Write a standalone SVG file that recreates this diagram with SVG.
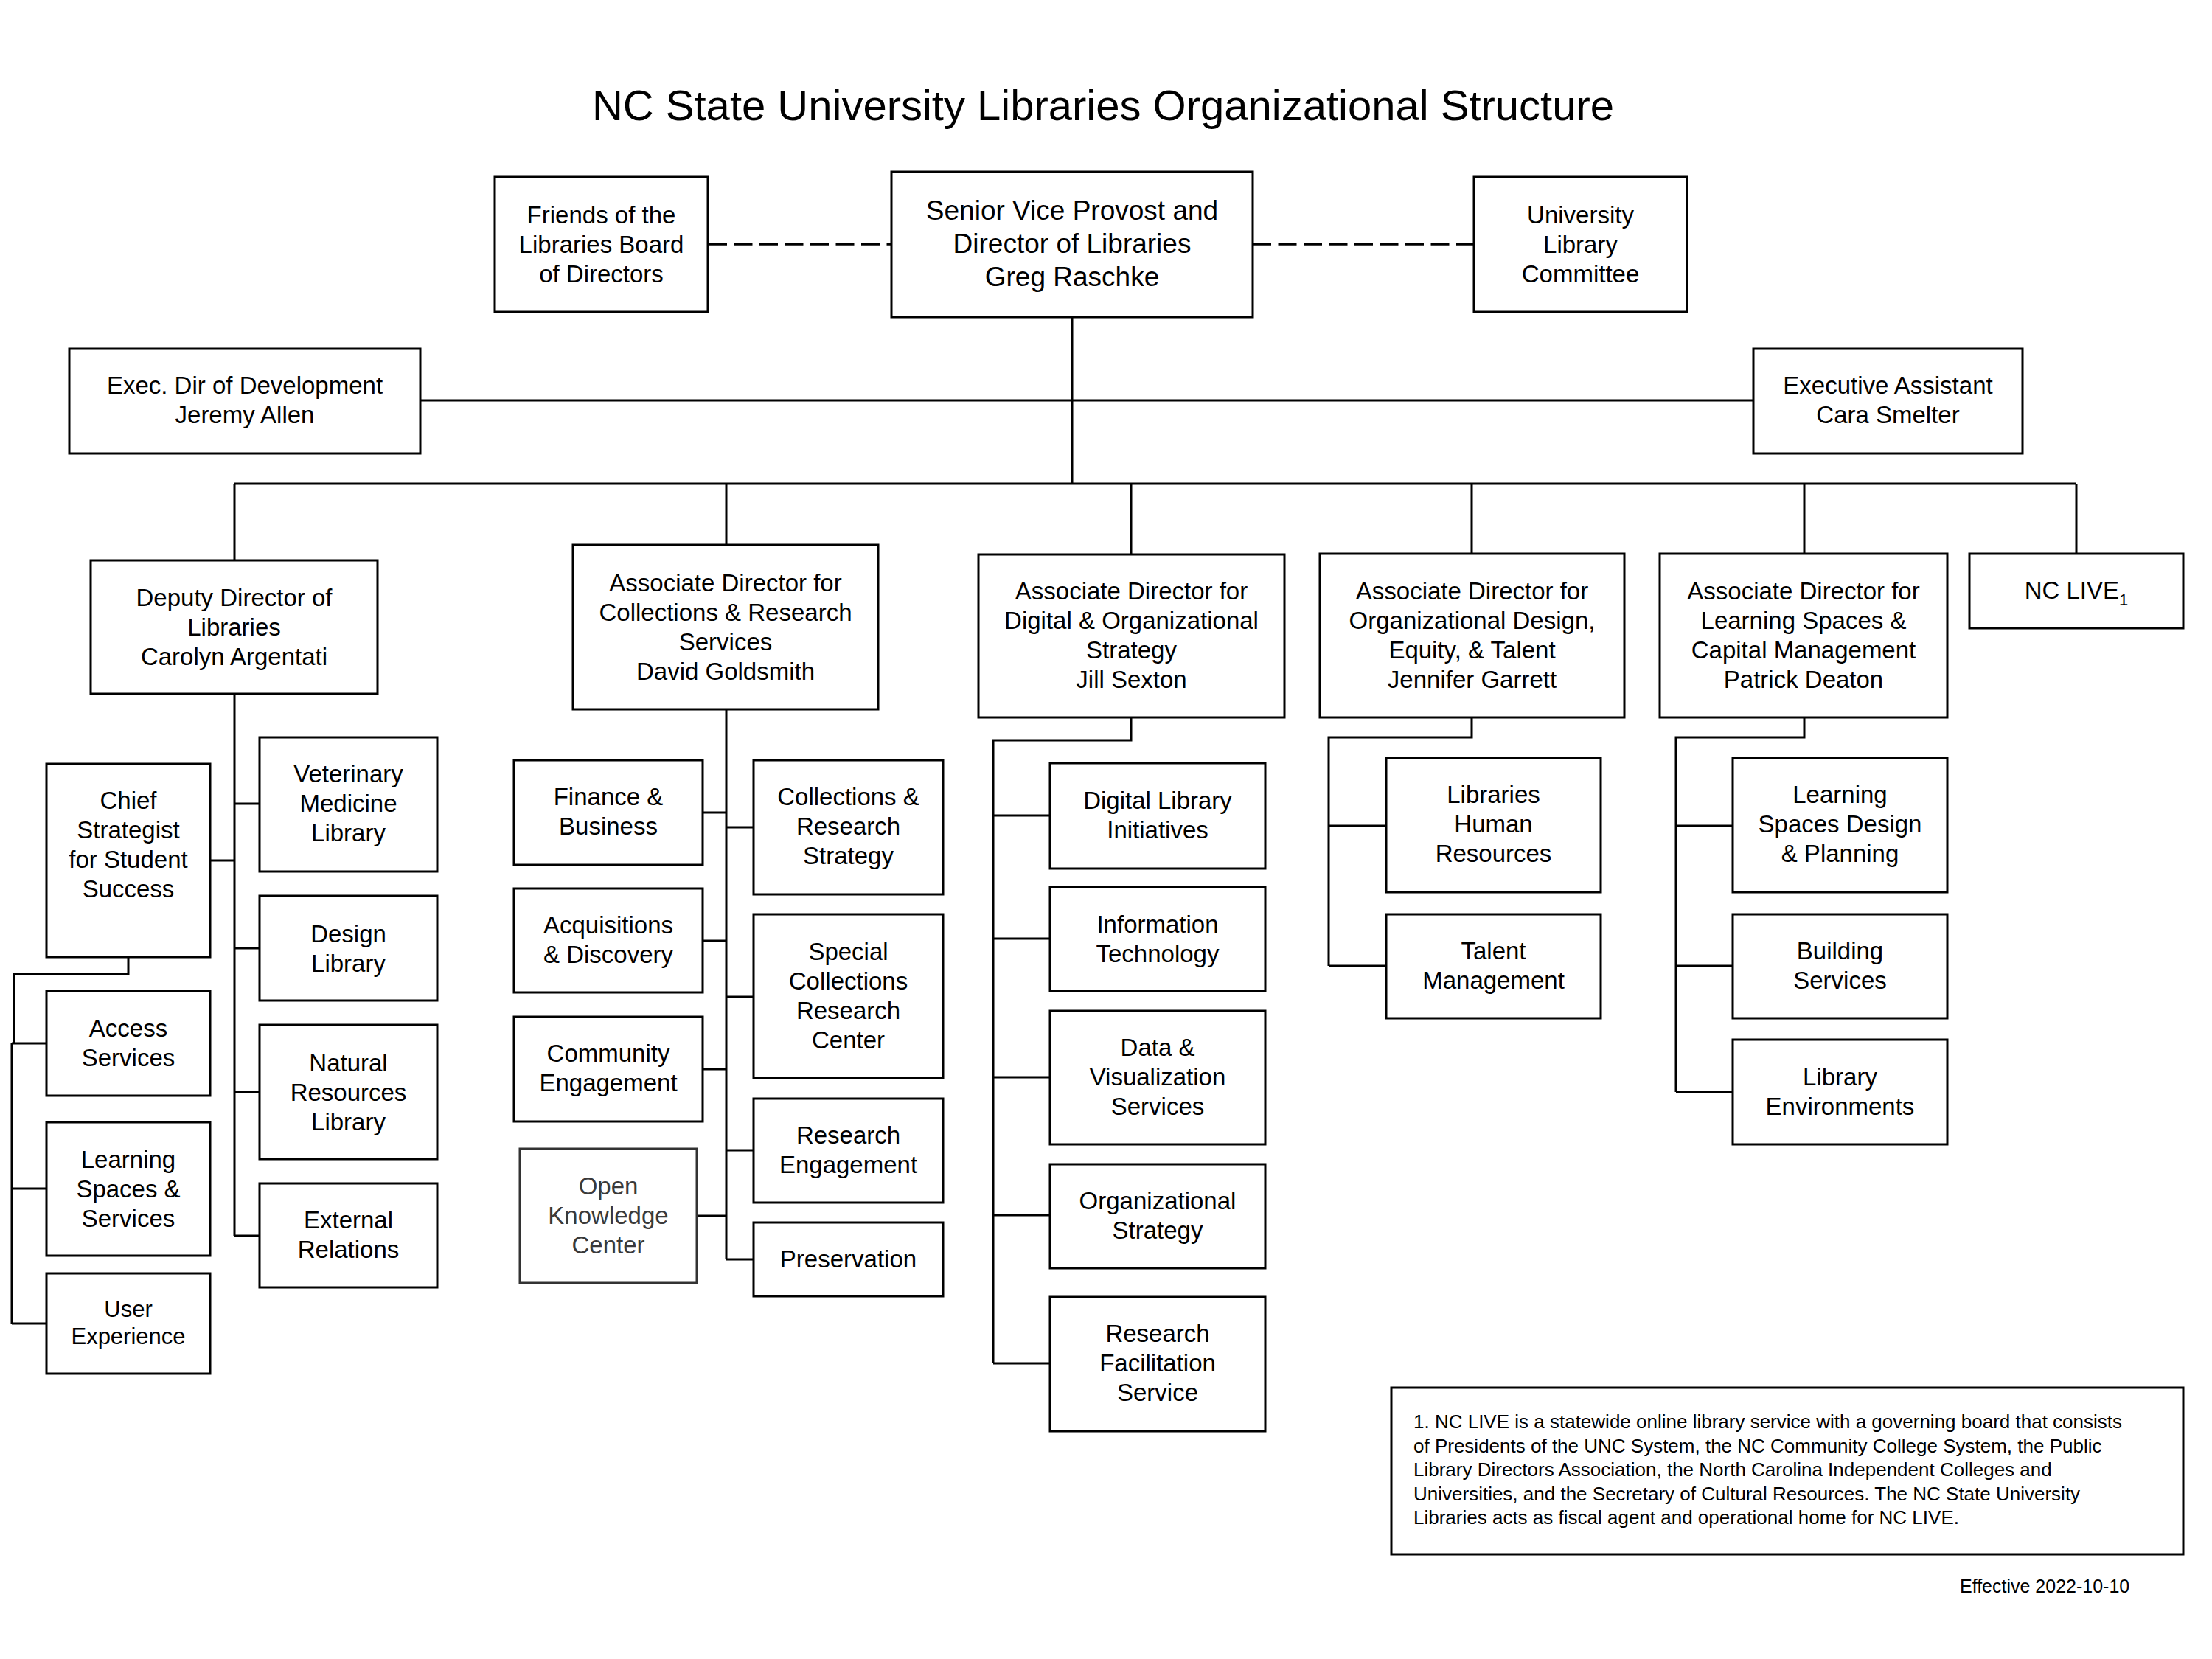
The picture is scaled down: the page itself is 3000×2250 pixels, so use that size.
<svg xmlns="http://www.w3.org/2000/svg" width="3000" height="2250" viewBox="0 0 3000 2250">
<style>
rect.box{fill:#fff;stroke:#000;stroke-width:3}
.t{font-family:"Liberation Sans",Arial,sans-serif;font-size:33px;text-anchor:middle;fill:#000}
.big{font-size:37px}
.title{font-family:"Liberation Sans",Arial,sans-serif;font-size:58px;text-anchor:middle;fill:#000}
.note{font-family:"Liberation Sans",Arial,sans-serif;font-size:26px;fill:#000}
.eff{font-family:"Liberation Sans",Arial,sans-serif;font-size:25px;fill:#000}
#connectors path{fill:none;stroke:#000;stroke-width:3}
#connectors path.dash{stroke-dasharray:25 9.5;stroke-width:3.5}
</style>
<rect width="3000" height="2250" fill="#fff"/>
<text class="title" x="1496" y="163">NC State University Libraries Organizational Structure</text>
<g id="connectors">
<path class="dash" d="M961 331H1209"/>
<path class="dash" d="M1699 331H1999"/>
<path d="M1454 430V656M570 543H2378M318 656H2816M318 656V760M985 656V739M1534 656V752M1996 656V751M2447 656V751M2816 656V751"/>
<path d="M318 941V1676M318 1090H352M318 1286H352M318 1481H352M318 1676H352M285 1167H318"/>
<path d="M174 1298V1321H19V1415M16 1415V1795M16 1415H63M16 1612H63M16 1795H63"/>
<path d="M985 962V1708M954 1102H985M954 1276H985M954 1450H985M945 1649H985M985 1122H1022M985 1352H1022M985 1560H1022M985 1708H1022"/>
<path d="M1534 973V1004H1347V1849M1347 1106H1424M1347 1273H1424M1347 1461H1424M1347 1648H1424M1347 1849H1424"/>
<path d="M1996 973V1000H1802V1310M1802 1120H1880M1802 1310H1880"/>
<path d="M2447 973V1000H2273V1481M2273 1120H2350M2273 1310H2350M2273 1481H2350"/>
</g>
<g id="friends"><rect class="box" x="671" y="240" width="289" height="183"/><text class="t" y="303"><tspan x="815.5">Friends of the</tspan><tspan x="815.5" dy="40">Libraries Board</tspan><tspan x="815.5" dy="40">of Directors</tspan></text></g>
<g id="svp"><rect class="box" x="1209" y="233" width="490" height="197"/><text class="t big" y="298"><tspan x="1454">Senior Vice Provost and</tspan><tspan x="1454" dy="45">Director of Libraries</tspan><tspan x="1454" dy="45">Greg Raschke</tspan></text></g>
<g id="ulc"><rect class="box" x="1999" y="240" width="289" height="183"/><text class="t" y="303"><tspan x="2143.5">University</tspan><tspan x="2143.5" dy="40">Library</tspan><tspan x="2143.5" dy="40">Committee</tspan></text></g>
<g id="execdev"><rect class="box" x="94" y="473" width="476" height="142"/><text class="t" y="534"><tspan x="332">Exec. Dir of Development</tspan><tspan x="332" dy="40">Jeremy Allen</tspan></text></g>
<g id="execasst"><rect class="box" x="2378" y="473" width="365" height="142"/><text class="t" y="534"><tspan x="2560.5">Executive Assistant</tspan><tspan x="2560.5" dy="40">Cara Smelter</tspan></text></g>
<g id="deputy"><rect class="box" x="123" y="760" width="389" height="181"/><text class="t" y="822"><tspan x="317.5">Deputy Director of</tspan><tspan x="317.5" dy="40">Libraries</tspan><tspan x="317.5" dy="40">Carolyn Argentati</tspan></text></g>
<g id="assoc-collections"><rect class="box" x="777" y="739" width="414" height="223"/><text class="t" y="802"><tspan x="984">Associate Director for</tspan><tspan x="984" dy="40">Collections &amp; Research</tspan><tspan x="984" dy="40">Services</tspan><tspan x="984" dy="40">David Goldsmith</tspan></text></g>
<g id="assoc-digital"><rect class="box" x="1327" y="752" width="415" height="221"/><text class="t" y="813"><tspan x="1534.5">Associate Director for</tspan><tspan x="1534.5" dy="40">Digital &amp; Organizational</tspan><tspan x="1534.5" dy="40">Strategy</tspan><tspan x="1534.5" dy="40">Jill Sexton</tspan></text></g>
<g id="assoc-orgdesign"><rect class="box" x="1790" y="751" width="413" height="222"/><text class="t" y="813"><tspan x="1996.5">Associate Director for</tspan><tspan x="1996.5" dy="40">Organizational Design,</tspan><tspan x="1996.5" dy="40">Equity, &amp; Talent</tspan><tspan x="1996.5" dy="40">Jennifer Garrett</tspan></text></g>
<g id="assoc-learning"><rect class="box" x="2251" y="751" width="390" height="222"/><text class="t" y="813"><tspan x="2446">Associate Director for</tspan><tspan x="2446" dy="40">Learning Spaces &amp;</tspan><tspan x="2446" dy="40">Capital Management</tspan><tspan x="2446" dy="40">Patrick Deaton</tspan></text></g>
<g id="nclive"><rect class="box" x="2671" y="751" width="290" height="101"/><text class="t" x="2816" y="812">NC LIVE<tspan font-size="22" dy="9">1</tspan></text></g>
<g id="chief"><rect class="box" x="63" y="1036" width="222" height="262"/><text class="t" y="1097"><tspan x="174">Chief</tspan><tspan x="174" dy="40">Strategist</tspan><tspan x="174" dy="40">for Student</tspan><tspan x="174" dy="40">Success</tspan></text></g>
<g id="vet"><rect class="box" x="352" y="1000" width="241" height="182"/><text class="t" y="1061"><tspan x="472.5">Veterinary</tspan><tspan x="472.5" dy="40">Medicine</tspan><tspan x="472.5" dy="40">Library</tspan></text></g>
<g id="design"><rect class="box" x="352" y="1215" width="241" height="142"/><text class="t" y="1278"><tspan x="472.5">Design</tspan><tspan x="472.5" dy="40">Library</tspan></text></g>
<g id="natural"><rect class="box" x="352" y="1390" width="241" height="182"/><text class="t" y="1453"><tspan x="472.5">Natural</tspan><tspan x="472.5" dy="40">Resources</tspan><tspan x="472.5" dy="40">Library</tspan></text></g>
<g id="external"><rect class="box" x="352" y="1605" width="241" height="141"/><text class="t" y="1666"><tspan x="472.5">External</tspan><tspan x="472.5" dy="40">Relations</tspan></text></g>
<g id="access"><rect class="box" x="63" y="1344" width="222" height="142"/><text class="t" y="1406"><tspan x="174">Access</tspan><tspan x="174" dy="40">Services</tspan></text></g>
<g id="lss"><rect class="box" x="63" y="1522" width="222" height="181"/><text class="t" y="1584"><tspan x="174">Learning</tspan><tspan x="174" dy="40">Spaces &amp;</tspan><tspan x="174" dy="40">Services</tspan></text></g>
<g id="ux"><rect class="box" x="63" y="1727" width="222" height="136"/><text class="t" y="1786" style="font-size:31px"><tspan x="174">User</tspan><tspan x="174" dy="37">Experience</tspan></text></g>
<g id="finance"><rect class="box" x="697" y="1031" width="256" height="142"/><text class="t" y="1092"><tspan x="825">Finance &amp;</tspan><tspan x="825" dy="40">Business</tspan></text></g>
<g id="acq"><rect class="box" x="697" y="1205" width="256" height="141"/><text class="t" y="1266"><tspan x="825">Acquisitions</tspan><tspan x="825" dy="40">&amp; Discovery</tspan></text></g>
<g id="community"><rect class="box" x="697" y="1379" width="256" height="142"/><text class="t" y="1440"><tspan x="825">Community</tspan><tspan x="825" dy="40">Engagement</tspan></text></g>
<g id="okc"><rect class="box" x="705" y="1558" width="240" height="182" style="stroke:#333"/><text class="t" y="1620" style="fill:#3a3a3a"><tspan x="825">Open</tspan><tspan x="825" dy="40">Knowledge</tspan><tspan x="825" dy="40">Center</tspan></text></g>
<g id="crs"><rect class="box" x="1022" y="1031" width="257" height="182"/><text class="t" y="1092"><tspan x="1150.5">Collections &amp;</tspan><tspan x="1150.5" dy="40">Research</tspan><tspan x="1150.5" dy="40">Strategy</tspan></text></g>
<g id="special"><rect class="box" x="1022" y="1240" width="257" height="222"/><text class="t" y="1302"><tspan x="1150.5">Special</tspan><tspan x="1150.5" dy="40">Collections</tspan><tspan x="1150.5" dy="40">Research</tspan><tspan x="1150.5" dy="40">Center</tspan></text></g>
<g id="research-eng"><rect class="box" x="1022" y="1490" width="257" height="141"/><text class="t" y="1551"><tspan x="1150.5">Research</tspan><tspan x="1150.5" dy="40">Engagement</tspan></text></g>
<g id="preservation"><rect class="box" x="1022" y="1658" width="257" height="100"/><text class="t" x="1150.5" y="1719">Preservation</text></g>
<g id="dli"><rect class="box" x="1424" y="1035" width="292" height="143"/><text class="t" y="1097"><tspan x="1570">Digital Library</tspan><tspan x="1570" dy="40">Initiatives</tspan></text></g>
<g id="it"><rect class="box" x="1424" y="1203" width="292" height="141"/><text class="t" y="1265"><tspan x="1570">Information</tspan><tspan x="1570" dy="40">Technology</tspan></text></g>
<g id="dvs"><rect class="box" x="1424" y="1371" width="292" height="181"/><text class="t" y="1432"><tspan x="1570">Data &amp;</tspan><tspan x="1570" dy="40">Visualization</tspan><tspan x="1570" dy="40">Services</tspan></text></g>
<g id="orgstrat"><rect class="box" x="1424" y="1579" width="292" height="141"/><text class="t" y="1640"><tspan x="1570">Organizational</tspan><tspan x="1570" dy="40">Strategy</tspan></text></g>
<g id="rfs"><rect class="box" x="1424" y="1759" width="292" height="182"/><text class="t" y="1820"><tspan x="1570">Research</tspan><tspan x="1570" dy="40">Facilitation</tspan><tspan x="1570" dy="40">Service</tspan></text></g>
<g id="lhr"><rect class="box" x="1880" y="1028" width="291" height="182"/><text class="t" y="1089"><tspan x="2025.5">Libraries</tspan><tspan x="2025.5" dy="40">Human</tspan><tspan x="2025.5" dy="40">Resources</tspan></text></g>
<g id="talent"><rect class="box" x="1880" y="1240" width="291" height="141"/><text class="t" y="1301"><tspan x="2025.5">Talent</tspan><tspan x="2025.5" dy="40">Management</tspan></text></g>
<g id="lsdp"><rect class="box" x="2350" y="1028" width="291" height="182"/><text class="t" y="1089"><tspan x="2495.5">Learning</tspan><tspan x="2495.5" dy="40">Spaces Design</tspan><tspan x="2495.5" dy="40">&amp; Planning</tspan></text></g>
<g id="building"><rect class="box" x="2350" y="1240" width="291" height="141"/><text class="t" y="1301"><tspan x="2495.5">Building</tspan><tspan x="2495.5" dy="40">Services</tspan></text></g>
<g id="envs"><rect class="box" x="2350" y="1410" width="291" height="142"/><text class="t" y="1472"><tspan x="2495.5">Library</tspan><tspan x="2495.5" dy="40">Environments</tspan></text></g>
<g id="footnote"><rect class="box" x="1887" y="1882" width="1074" height="226"/><text class="note" y="1937"><tspan x="1917">1. NC LIVE is a statewide online library service with a governing board that consists</tspan><tspan x="1917" dy="32.5">of Presidents of the UNC System, the NC Community College System, the Public</tspan><tspan x="1917" dy="32.5">Library Directors Association, the North Carolina Independent Colleges and</tspan><tspan x="1917" dy="32.5">Universities, and the Secretary of Cultural Resources. The NC State University</tspan><tspan x="1917" dy="32.5">Libraries acts as fiscal agent and operational home for NC LIVE.</tspan></text></g>
<text class="eff" x="2658" y="2160">Effective 2022-10-10</text>
</svg>
